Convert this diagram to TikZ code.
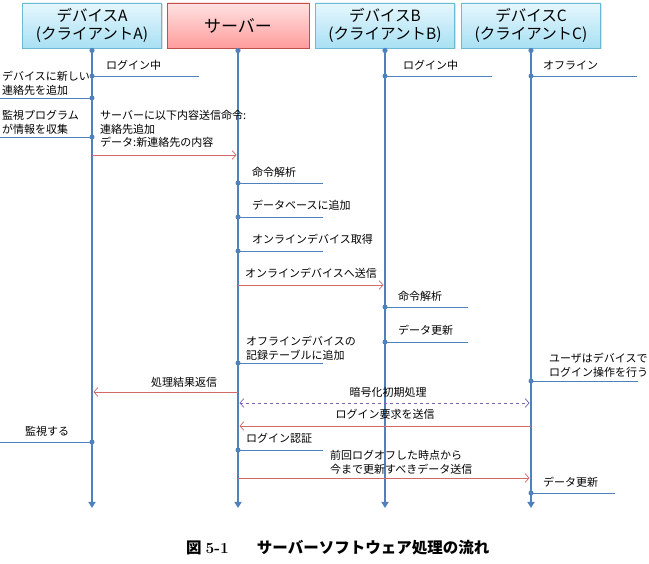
\documentclass[tikz,border=0pt]{standalone}
\usepackage{fontspec}
\newfontfamily\jp{Noto Sans CJK JP}
\usetikzlibrary{arrows.meta,shadows}

\definecolor{lifeblue}{HTML}{4F81BD}
\definecolor{msgred}{HTML}{D06A68}
\definecolor{initviolet}{HTML}{7F62B0}
\definecolor{cyanedge}{HTML}{6CB9D3}
\definecolor{cyantop}{HTML}{E6F7FD}
\definecolor{cyanbot}{HTML}{A8E0F3}
\definecolor{pinkedge}{HTML}{C0504D}
\definecolor{pinktop}{HTML}{FFE2E2}
\definecolor{pinkbot}{HTML}{FF9C9C}

\tikzset{
  hdr/.style={draw, line width=0.9pt, minimum width=139pt, minimum height=45pt,
    align=center, font=\jp\fontsize{15.5}{18}\selectfont,
    drop shadow={opacity=0.25, shadow xshift=1.2pt, shadow yshift=-1.2pt}},
  devbox/.style={hdr, draw=cyanedge, top color=cyantop, bottom color=cyanbot},
  srvbox/.style={hdr, draw=pinkedge, top color=pinktop, bottom color=pinkbot,
    minimum width=142pt, font=\jp\fontsize{17}{20}\selectfont},
  life/.style={draw=lifeblue, line width=2.8pt, -{Triangle[length=6pt,width=7pt]}},
  act/.style={draw=lifeblue, line width=0.8pt},
  msg/.style={draw=msgred, line width=0.7pt, shorten >=1.5pt,
    -{Straight Barb[length=4pt,width=9pt]}},
  initmsg/.style={draw=initviolet, line width=0.7pt, dashed, shorten >=1.5pt, shorten <=1.5pt,
    {Straight Barb[length=4pt,width=9pt]}-{Straight Barb[length=4pt,width=9pt]}},
  lbl/.style={anchor=west, inner sep=0pt, align=left,
    font=\jp\fontsize{11}{13.8}\selectfont},
  dot/.style={fill=lifeblue},
}

% an activity line: name, lifeline x, y, free end x
\newcommand\lifeact[4]{%
  \coordinate (#1) at (#2,#3);
  \coordinate (#1x) at (#4,#3);
  \draw[act] (#1x) -- (#1);
  \fill[dot] (#1) circle (2.5pt);}

\begin{document}
\begin{tikzpicture}[x=1pt,y=-1pt]
\useasboundingbox (0,0) rectangle (649,564);

% participants
\node[devbox] (A) at (92,25.5) {デバイスA\\(クライアントA)};
\node[srvbox] (S) at (238,25.5) {サーバー};
\node[devbox] (B) at (385,25.5) {デバイスB\\(クライアントB)};
\node[devbox] (C) at (531,25.5) {デバイスC\\(クライアントC)};

% lifelines
\foreach \n/\x in {A/92,S/238,B/385,C/531}{
  \coordinate (\n end) at (\x,508);
  \draw[life] (\n.south) -- (\n end);
  \fill[dot] ([yshift=-2pt]\n.south) circle (2.6pt);
}

% device A
\lifeact{a1}{92}{76}{199}
\node[lbl] (la1) at (106,65) {ログイン中};
\lifeact{a2}{92}{98}{0}
\node[lbl] (la2) at (2,83) {デバイスに新しい\\連絡先を追加};
\lifeact{a3}{92}{137}{0}
\node[lbl] (la3) at (2,122) {監視プログラム\\が情報を収集};
\lifeact{a4}{92}{442}{0}
\node[lbl] (la4) at (25,431) {監視する};

% server
\lifeact{s1}{238}{183}{323}
\node[lbl] (ls1) at (252,172) {命令解析};
\lifeact{s2}{238}{217}{323}
\node[lbl] (ls2) at (252,205) {データベースに追加};
\lifeact{s3}{238}{251}{323}
\node[lbl] (ls3) at (252,239) {オンラインデバイス取得};
\lifeact{s4}{238}{363}{323}
\node[lbl] (ls4) at (246,348) {オフラインデバイスの\\記録テーブルに追加};
\lifeact{s5}{238}{450}{323}
\node[lbl] (ls5) at (246,438) {ログイン認証};

% device B
\lifeact{b0}{385}{76}{492}
\node[lbl] (lb0) at (403,65) {ログイン中};
\lifeact{b1}{385}{307}{468}
\node[lbl] (lb1) at (398,296) {命令解析};
\lifeact{b2}{385}{342}{468}
\node[lbl] (lb2) at (398,330) {データ更新};

% device C
\lifeact{c0}{531}{76}{637}
\node[lbl] (lc0) at (543,65) {オフライン};
\lifeact{c1}{531}{381}{638}
\node[lbl] (lc1) at (549,365) {ユーザはデバイスで\\ログイン操作を行う};
\lifeact{c2}{531}{493}{615}
\node[lbl] (lc2) at (543,482) {データ更新};

% messages
\coordinate (m1a) at (92,155);  \coordinate (m1b) at (238,155);
\draw[msg] (m1a) -- (m1b);
\node[lbl] (lm1) at (100,129) {サーバーに以下内容送信命令:\\連絡先追加\\データ:新連絡先の内容};

\coordinate (m2a) at (238,285); \coordinate (m2b) at (385,285);
\draw[msg] (m2a) -- (m2b);
\node[lbl] (lm2) at (245,273) {オンラインデバイスへ送信};

\coordinate (m3a) at (238,392); \coordinate (m3b) at (92,392);
\draw[msg] (m3a) -- (m3b);
\node[lbl, anchor=center] (lm3) at (184,382) {処理結果返信};

\coordinate (m4a) at (238,403); \coordinate (m4b) at (531,403);
\draw[initmsg] (m4a) -- (m4b);
\node[lbl, anchor=center] (lm4) at (388,392) {暗号化初期処理};

\coordinate (m5a) at (531,426); \coordinate (m5b) at (238,426);
\draw[msg] (m5a) -- (m5b);
\node[lbl, anchor=center] (lm5) at (385,414) {ログイン要求を送信};

\coordinate (m6a) at (238,478); \coordinate (m6b) at (531,478);
\draw[msg] (m6a) -- (m6b);
\node[lbl] (lm6) at (330,462.5) {前回ログオフした時点から\\今まで更新すべきデータ送信};

% caption
\node[anchor=west, inner sep=0pt, font=\jp\bfseries\fontsize{15.5}{18}\selectfont] (cap)
  at (186,548) {図\hspace{4pt}{\rmfamily 5-1}\hspace{28pt}サーバーソフトウェア処理の流れ};
\end{tikzpicture}
\end{document}
